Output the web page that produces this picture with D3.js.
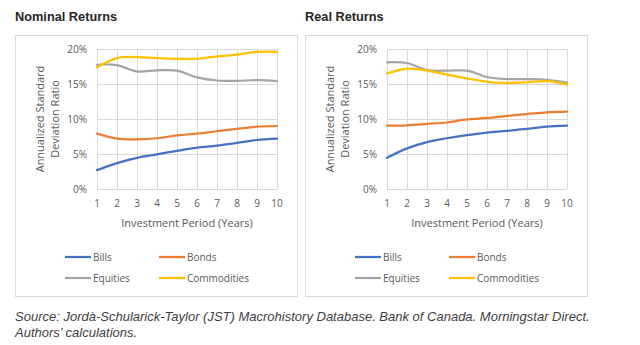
<!DOCTYPE html>
<html>
<head>
<meta charset="utf-8">
<script src="https://cdn.jsdelivr.net/npm/d3@7"></script>
<style>
  body { margin: 0; background: #ffffff; }
  svg { display: block; }
</style>
</head>
<body>
<div class="chartContainer"></div>
<script>
// 数据：投资期限（年）
const periods = [1, 2, 3, 4, 5, 6, 7, 8, 9, 10];
const yTicks = [0, 0.05, 0.10, 0.15, 0.20];

const seriesNames = ['Bills', 'Bonds', 'Equities', 'Commodities'];
const seriesColors = ['#4472C4', '#ED7D31', '#A5A5A5', '#FFC000'];

// Nominal Returns
const nominalBills = [0.027, 0.037, 0.0445, 0.0495, 0.0545, 0.059, 0.062, 0.066, 0.070, 0.072];
const nominalBonds = [0.079, 0.072, 0.071, 0.0725, 0.0765, 0.079, 0.0825, 0.086, 0.089, 0.090];
const nominalEquities = [0.1775, 0.177, 0.168, 0.1695, 0.169, 0.1595, 0.155, 0.1545, 0.1555, 0.154];
const nominalCommodities = [0.174, 0.187, 0.1885, 0.187, 0.186, 0.186, 0.1895, 0.192, 0.196, 0.196];

// Real Returns
const realBills = [0.0445, 0.058, 0.067, 0.0725, 0.077, 0.0805, 0.083, 0.086, 0.089, 0.0905];
const realBonds = [0.0905, 0.091, 0.093, 0.095, 0.0995, 0.1015, 0.1045, 0.107, 0.1095, 0.1105];
const realEquities = [0.181, 0.180, 0.170, 0.169, 0.169, 0.160, 0.157, 0.157, 0.156, 0.152];
const realCommodities = [0.165, 0.172, 0.169, 0.1635, 0.158, 0.153, 0.1515, 0.1525, 0.154, 0.1495];

const width = 640, height = 345;
const svg = d3.select('.chartContainer')
    .append('svg')
    .attr('width', width)
    .attr('height', height);

const tickFont = '"Open Sans", "DejaVu Sans", sans-serif';
const textGray = '#595959';
const gridGray = '#d9d9d9';

/**
 * 绘制单个面板
 */
const renderPanel = (left, title, values) => {
    const g = svg.append('g').attr('transform', `translate(${left},0)`);

    // 标题
    g.append('text')
        .attr('x', 0).attr('y', 21)
        .style('font-family', '"Liberation Sans", Arial, sans-serif')
        .style('font-weight', 'bold')
        .style('font-size', '12.75px')
        .attr('fill', '#262626')
        .text(title);

    // 外框
    g.append('rect')
        .attr('x', 0.5).attr('y', 35.5)
        .attr('width', 282).attr('height', 261)
        .attr('fill', 'none')
        .attr('stroke', gridGray)
        .attr('stroke-width', 1);

    const x = d3.scaleLinear().domain([1, 10]).range([82, 262]);
    const y = d3.scaleLinear().domain([0, 0.20]).range([189, 49]);

    // 网格
    g.append('g').selectAll('line')
        .data(yTicks).enter().append('line')
        .attr('x1', x(1)).attr('x2', x(10))
        .attr('y1', d => Math.round(y(d)) + 0.5).attr('y2', d => Math.round(y(d)) + 0.5)
        .attr('stroke', gridGray);
    g.append('g').selectAll('line')
        .data(periods).enter().append('line')
        .attr('x1', d => Math.round(x(d)) + 0.5).attr('x2', d => Math.round(x(d)) + 0.5)
        .attr('y1', y(0.20)).attr('y2', y(0))
        .attr('stroke', gridGray);

    // 刻度
    g.append('g').selectAll('text')
        .data(yTicks).enter().append('text')
        .attr('x', x(1) - 10).attr('y', d => y(d) + 3.5)
        .attr('text-anchor', 'end')
        .style('font-family', tickFont).style('font-size', '10px')
        .attr('fill', textGray)
        .text(d3.format('.0%'));
    g.append('g').selectAll('text')
        .data(periods).enter().append('text')
        .attr('x', d => x(d)).attr('y', 207)
        .attr('text-anchor', 'middle')
        .style('font-family', tickFont).style('font-size', '10px')
        .attr('fill', textGray)
        .text(d => d);

    // 轴标题
    g.append('text')
        .attr('x', (x(1) + x(10)) / 2).attr('y', 227)
        .attr('text-anchor', 'middle')
        .style('font-family', tickFont).style('font-size', '11px')
        .attr('fill', textGray)
        .text('Investment Period (Years)');
    const yTitle = g.append('text')
        .attr('transform', 'translate(0,119) rotate(-90)')
        .attr('text-anchor', 'middle')
        .style('font-family', tickFont).style('font-size', '11px')
        .attr('fill', textGray);
    yTitle.append('tspan').attr('x', 0).attr('y', 29).text('Annualized Standard');
    yTitle.append('tspan').attr('x', 0).attr('y', 44).text('Deviation Ratio');

    // 折线
    const line = d3.line()
        .x((d, i) => x(periods[i]))
        .y(d => y(d))
        .curve(d3.curveCardinal.tension(0));
    values.forEach((vals, i) => {
        g.append('path')
            .attr('d', line(vals))
            .attr('fill', 'none')
            .attr('stroke', seriesColors[i])
            .attr('stroke-width', 2.25)
            .attr('stroke-linecap', 'round');
    });

    // 图例
    const legendPos = [[50, 257], [144, 257], [50, 278], [144, 278]];
    seriesNames.forEach((name, i) => {
        const [lx, ly] = legendPos[i];
        g.append('line')
            .attr('x1', lx).attr('x2', lx + 26)
            .attr('y1', ly).attr('y2', ly)
            .attr('stroke', seriesColors[i])
            .attr('stroke-width', 2.25);
        g.append('text')
            .attr('x', lx + 28).attr('y', ly + 3.5)
            .style('font-family', tickFont).style('font-size', '10px')
            .attr('fill', textGray)
            .text(name);
    });
};

renderPanel(15, 'Nominal Returns', [nominalBills, nominalBonds, nominalEquities, nominalCommodities]);
renderPanel(305, 'Real Returns', [realBills, realBonds, realEquities, realCommodities]);

// 脚注
const note = svg.append('text')
    .style('font-family', '"Liberation Sans", Arial, sans-serif')
    .style('font-style', 'italic')
    .style('font-size', '13px')
    .attr('fill', '#404040');
note.append('tspan').attr('x', 15).attr('y', 321)
    .text('Source: Jordà-Schularick-Taylor (JST) Macrohistory Database. Bank of Canada. Morningstar Direct.');
note.append('tspan').attr('x', 15).attr('y', 337)
    .text('Authors’ calculations.');
</script>
</body>
</html>
